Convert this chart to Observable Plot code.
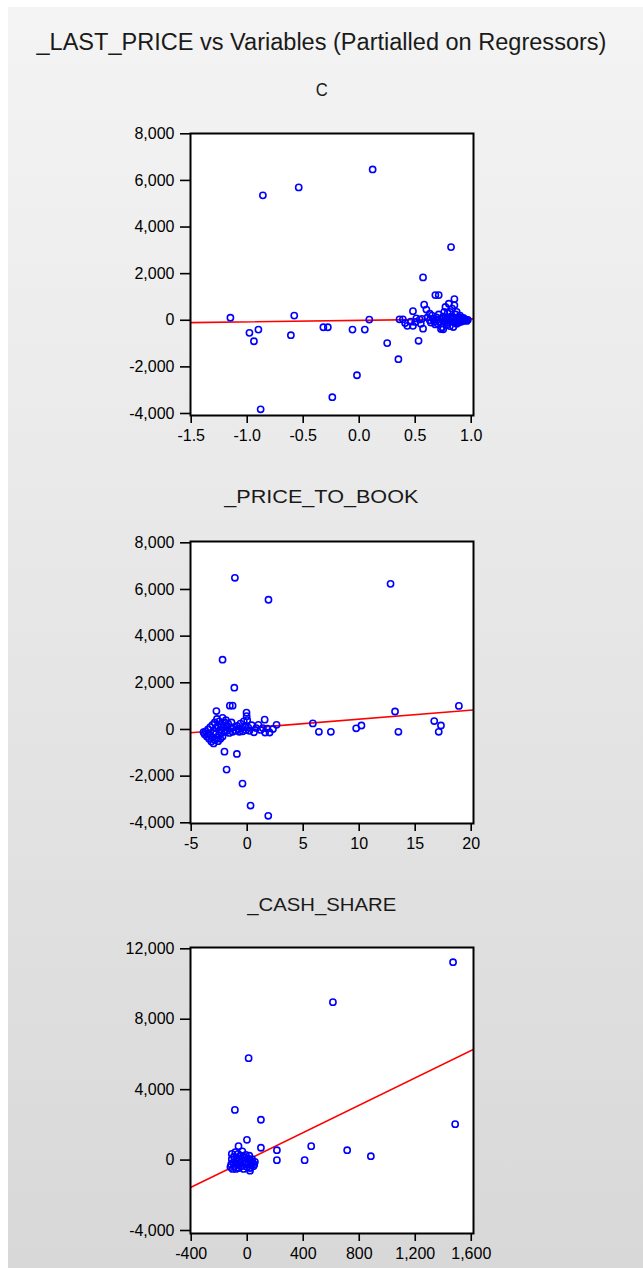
<!DOCTYPE html>
<html><head><meta charset="utf-8">
<script src="https://cdn.jsdelivr.net/npm/d3@7"></script>
<script src="https://cdn.jsdelivr.net/npm/@observablehq/plot@0.6"></script>
<style>
html,body{margin:0;padding:0;}
body{width:643px;height:1268px;background:#fff;position:relative;overflow:hidden;font-family:"Liberation Sans",Arial,sans-serif;}
#bg{position:absolute;left:8px;top:7px;width:635px;height:1261px;background:linear-gradient(#f4f4f4,#d8d8d8);}
.t{position:absolute;left:0;width:643px;text-align:center;color:#1a1a1a;white-space:nowrap;}
.t span{display:inline-block;transform-origin:center;}
.panel{position:absolute;left:0;}
</style></head><body>
<div id="bg"></div>
<div class="t" id="title" style="top:28px;font-size:23px;line-height:28px;"><span data-w="570">_LAST_PRICE vs Variables (Partialled on Regressors)</span></div>
<div class="t" style="top:79px;font-size:19px;line-height:22px;"><span data-w="12">C</span></div>
<div class="t" style="top:486px;font-size:19px;line-height:22px;"><span data-w="194">_PRICE_TO_BOOK</span></div>
<div class="t" style="top:894px;font-size:19px;line-height:22px;"><span data-w="149">_CASH_SHARE</span></div>
<div id="p1" class="panel" style="top:123px"></div>
<div id="p2" class="panel" style="top:531px"></div>
<div id="p3" class="panel" style="top:937px"></div>
<script>
// ---- Panel 1: C ----
const cX = [-1.15,-0.98,-0.94,-0.90,-0.86,-0.88,-0.54,-0.58,-0.61,-0.32,-0.28,-0.24,-0.06,-0.02,0.05,0.09,0.12,0.25,0.35,0.53,0.57,0.82,0.68,0.71,0.85,0.58,0.48,
  0.36,0.39,0.43,0.41,0.46,0.48,0.50,0.51,0.54,0.55,0.57,0.56,0.60,0.61,0.63,0.63,0.64,0.65,0.66,0.67,0.68,0.69,0.70,0.70,0.71,0.72,0.73,0.74,0.74,0.75,0.75,0.76,0.76,0.77,0.77,0.78,0.78,0.79,0.79,0.80,0.80,0.81,0.81,0.82,0.82,0.83,0.83,0.84,0.84,0.85,0.85,0.86,0.86,0.87,0.87,0.88,0.88,0.89,0.89,0.90,0.90,0.91,0.91,0.92,0.93,0.93,0.94,0.95,0.96,0.97];
const cY = [110,-540,-900,-400,5360,-3820,5700,200,-640,-300,-300,-3300,-400,-2360,-400,30,6470,-980,-1670,-880,1840,3140,1080,1080,910,670,390,
  40,40,-240,-120,-60,-240,-70,80,30,-150,-360,60,460,120,280,0,-100,200,60,-50,-180,120,-140,30,250,-60,-380,-300,80,-390,150,360,-30,570,100,-200,40,300,-100,710,20,360,-250,150,-50,500,30,-290,100,640,-80,250,0,360,-150,80,-40,140,-100,200,20,-60,60,30,-20,100,0,40,-30,20];
const cXTicks = [-1.5,-1.0,-0.5,0.0,0.5,1.0];
const cYTicks = [-4000,-2000,0,2000,4000,6000,8000];
const cFit = [-5, 64]; // intercept, slope

// ---- Panel 2: _PRICE_TO_BOOK ----
const pbX = [-1.10,1.90,12.8,-2.2,-1.15,-1.55,-1.30,18.9,13.2,-2.75,-0.06,-0.05,1.56,2.62,5.86,6.40,7.47,9.73,10.2,13.5,16.7,17.1,17.3,-2.03,-0.92,-1.84,-0.42,0.30,1.88,
  -3.9,-3.8,-3.7,-3.6,-3.5,-3.5,-3.4,-3.3,-3.3,-3.2,-3.1,-3.1,-3.0,-3.0,-2.9,-2.9,-2.8,-2.8,-2.7,-2.7,-2.6,-2.6,-2.5,-2.5,-2.4,-2.4,-2.3,-2.3,-2.2,-2.2,-2.1,-2.0,-2.0,-1.9,-1.8,-1.8,-1.7,-1.6,-1.5,-1.4,-1.3,-1.2,
  -1.0,-0.9,-0.8,-0.7,-0.6,-0.5,-0.4,-0.3,-0.2,-0.1,0.0,0.1,0.2,0.4,0.6,0.8,1.0,1.2,1.4,1.6,1.8,2.0,2.3];
const pbY = [6500,5560,6240,2990,1790,1020,1020,1010,770,790,720,570,420,200,260,-100,-100,50,170,-100,360,-100,170,-950,-1050,-1720,-2320,-3260,-3700,
  -120,-200,-80,-300,-180,0,-400,-250,100,-520,-350,200,-100,-600,300,-450,-200,50,-350,450,150,-500,-250,350,0,-400,200,-150,500,-300,100,300,-100,400,150,-50,250,-150,50,300,-100,100,
  -50,150,20,-100,250,50,-80,350,120,-30,400,80,-60,180,-120,60,200,-20,60,-130,40,-130,20];
const pbXTicks = [-5,0,5,10,15,20];
const pbYTicks = [-4000,-2000,0,2000,4000,6000,8000];
const pbFit = [55, 38.8];

// ---- Panel 3: _CASH_SHARE ----
const csX = [1470,612,10,-88,1485,98,-2,-62,98,212,212,457,410,714,883,
  -120,-115,-110,-110,-105,-100,-95,-90,-85,-80,-80,-75,-70,-65,-60,-55,-50,-45,-40,-35,-30,-25,-20,-15,-10,-5,0,5,10,15,20,20,25,30,35,40,45,50,55];
const csY = [11240,8970,5790,2850,2040,2290,1150,790,700,560,-5,790,-5,560,220,
  -400,-250,50,350,-500,-150,200,-350,450,-50,-500,150,-250,350,-450,50,-150,250,-350,500,-50,-500,150,-250,300,-100,-400,100,-200,250,-450,-600,-50,-300,50,-150,-350,-250,-100];
const csXTicks = [-400,0,400,800,1200,1600];
const csYTicks = [-4000,0,4000,8000,12000];
const csFit = [14, 3.88];

const intFmt = v => d3.format(",")(v).replace("\u2212", "-");
const dec1 = v => d3.format(".1f")(v).replace("\u2212", "-");

function panel(el, {xs, ys, xDomain, yDomain, xTicks, yTicks, xFmt, fit, plotH}) {
  const pts = xs.map((x, i) => ({x, y: ys[i]}));
  const line = xDomain.map(x => ({x, y: fit[0] + fit[1] * x}));
  const chart = Plot.plot({
    width: 643, height: 10 + plotH + 36,
    marginLeft: 190, marginRight: 170, marginTop: 10, marginBottom: 36,
    x: {domain: xDomain}, y: {domain: yDomain},
    style: {background: "transparent", fontFamily: "'Liberation Sans', Arial, sans-serif", fontSize: "16px", color: "#000", overflow: "visible"},
    marks: [
      Plot.frame({fill: "white"}),
      Plot.axisY({ticks: yTicks, tickFormat: intFmt, tickSize: 10, tickPadding: 6, label: null, strokeWidth: 1.6, fontSize: 16}),
      Plot.axisX({ticks: xTicks, tickFormat: xFmt, tickSize: 8, tickPadding: 6, label: null, strokeWidth: 1.6, fontSize: 16}),
      Plot.line(line, {x: "x", y: "y", stroke: "#ff0000", strokeWidth: 1.6, clip: true}),
      Plot.dot(pts, {x: "x", y: "y", r: 3.1, stroke: "#0000ff", strokeWidth: 1.6, fill: "none"}),
      Plot.frame({stroke: "#000", strokeWidth: 2})
    ]
  });
  document.getElementById(el).appendChild(chart);
}

panel("p1", {xs: cX, ys: cY, xDomain: [-1.5063, 1.0205], yDomain: [-4086, 8013], xTicks: cXTicks, yTicks: cYTicks, xFmt: dec1, fit: cFit, plotH: 282});
panel("p2", {xs: pbX, ys: pbY, xDomain: [-5.0625, 20.205], yDomain: [-4030, 8056], xTicks: pbXTicks, yTicks: pbYTicks, xFmt: intFmt, fit: pbFit, plotH: 282});
panel("p3", {xs: csX, ys: csY, xDomain: [-405, 1616], yDomain: [-4170, 12074], xTicks: csXTicks, yTicks: csYTicks, xFmt: intFmt, fit: csFit, plotH: 286});

// stretch titles horizontally to the reference widths
document.querySelectorAll(".t span").forEach(s => {
  const w = s.getBoundingClientRect().width;
  const target = +s.dataset.w;
  if (w > 0) s.style.transform = `scaleX(${target / w})`;
});
</script>
</body></html>
